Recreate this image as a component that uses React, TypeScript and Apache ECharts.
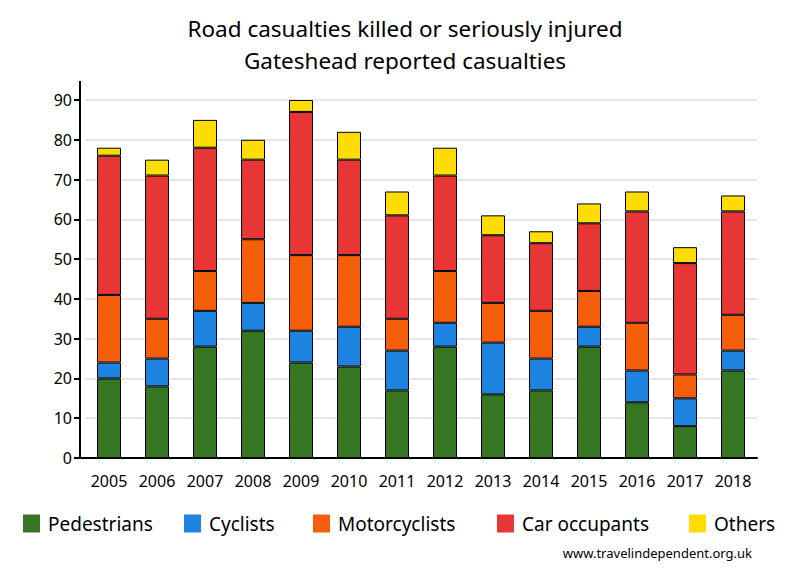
import React, { useEffect, useRef } from "react";
import * as echarts from "echarts";

const years = ["2005","2006","2007","2008","2009","2010","2011","2012","2013","2014","2015","2016","2017","2018"];
const pedestrians = [20, 18, 28, 32, 24, 23, 17, 28, 16, 17, 28, 14, 8, 22];
const cyclists = [4, 7, 9, 7, 8, 10, 10, 6, 13, 8, 5, 8, 7, 5];
const motorcyclists = [17, 10, 10, 16, 19, 18, 8, 13, 10, 12, 9, 12, 6, 9];
const carOccupants = [35, 36, 31, 20, 36, 24, 26, 24, 17, 17, 17, 28, 28, 26];
const others = [2, 4, 7, 5, 3, 7, 6, 7, 5, 3, 5, 5, 4, 4];
const seriesNames = ["Pedestrians", "Cyclists", "Motorcyclists", "Car occupants", "Others"];

const FONT = "Noto Sans";

export default function App() {
  const ref = useRef<HTMLDivElement>(null);
  useEffect(() => {
    if (!ref.current) return;
    const chart = echarts.init(ref.current, null, { renderer: "svg" });
    const mk = (name: string, data: number[], color: string) => ({
      name,
      type: "bar",
      stack: "total",
      data,
      barWidth: 24,
      itemStyle: { color, borderColor: "#000", borderWidth: 1 },
    });
    const legendLefts = [23, 184, 313, 497, 689];
    chart.setOption({
      animation: false,
      backgroundColor: "#fff",
      textStyle: { fontFamily: FONT },
      title: {
        text: "Road casualties killed or seriously injured\nGateshead reported casualties",
        left: 400,
        top: 7,
        textAlign: "center",
        textStyle: { fontFamily: FONT, fontSize: 22.5, fontWeight: "normal", color: "#000", lineHeight: 32 },
      },
      grid: { left: 85, right: 43, top: 100, bottom: 122 },
      legend: seriesNames.map((n, i) => ({
        left: legendLefts[i],
        top: 514,
        padding: 0,
        itemWidth: 17,
        itemHeight: 18,
        icon: "rect",
        itemStyle: { borderWidth: 0 },
        textStyle: { fontFamily: FONT, fontSize: 19, color: "#000", padding: [0, 0, 0, 3] },
        data: [n],
      })),
      xAxis: {
        type: "category",
        data: years,
        axisLine: { lineStyle: { color: "#000", width: 2 } },
        axisTick: { show: false },
        axisLabel: { fontFamily: FONT, fontSize: 16, color: "#000", margin: 15 },
      },
      yAxis: {
        type: "value",
        min: 0,
        max: 90,
        interval: 10,
        offset: 5,
        axisLine: { show: true, lineStyle: { color: "#000", width: 2 } },
        axisTick: { show: true, length: 6, lineStyle: { color: "#000", width: 2 } },
        axisLabel: { fontFamily: FONT, fontSize: 16, color: "#000", margin: 8 },
        splitLine: { lineStyle: { color: "#e6e6e6", width: 2 } },
      },
      graphic: [
        { type: "line", shape: { x1: 80, y1: 81, x2: 80, y2: 100 }, style: { stroke: "#000", lineWidth: 2 } },
        { type: "line", shape: { x1: 79, y1: 458, x2: 86, y2: 458 }, style: { stroke: "#000", lineWidth: 2 } },
        {
          type: "text",
          x: 752,
          y: 553,
          style: { text: "www.travelindependent.org.uk", fontFamily: FONT, fontSize: 13, fill: "#000", textAlign: "right", textVerticalAlign: "middle" },
        },
      ],
      series: [
        mk("Pedestrians", pedestrians, "#367522"),
        mk("Cyclists", cyclists, "#1e84e0"),
        mk("Motorcyclists", motorcyclists, "#f55f0b"),
        mk("Car occupants", carOccupants, "#e83535"),
        mk("Others", others, "#ffdd00"),
      ],
    });
    return () => chart.dispose();
  }, []);
  return <div ref={ref} style={{ width: 800, height: 580, position: "absolute", left: 0, top: 0 }} />;
}
